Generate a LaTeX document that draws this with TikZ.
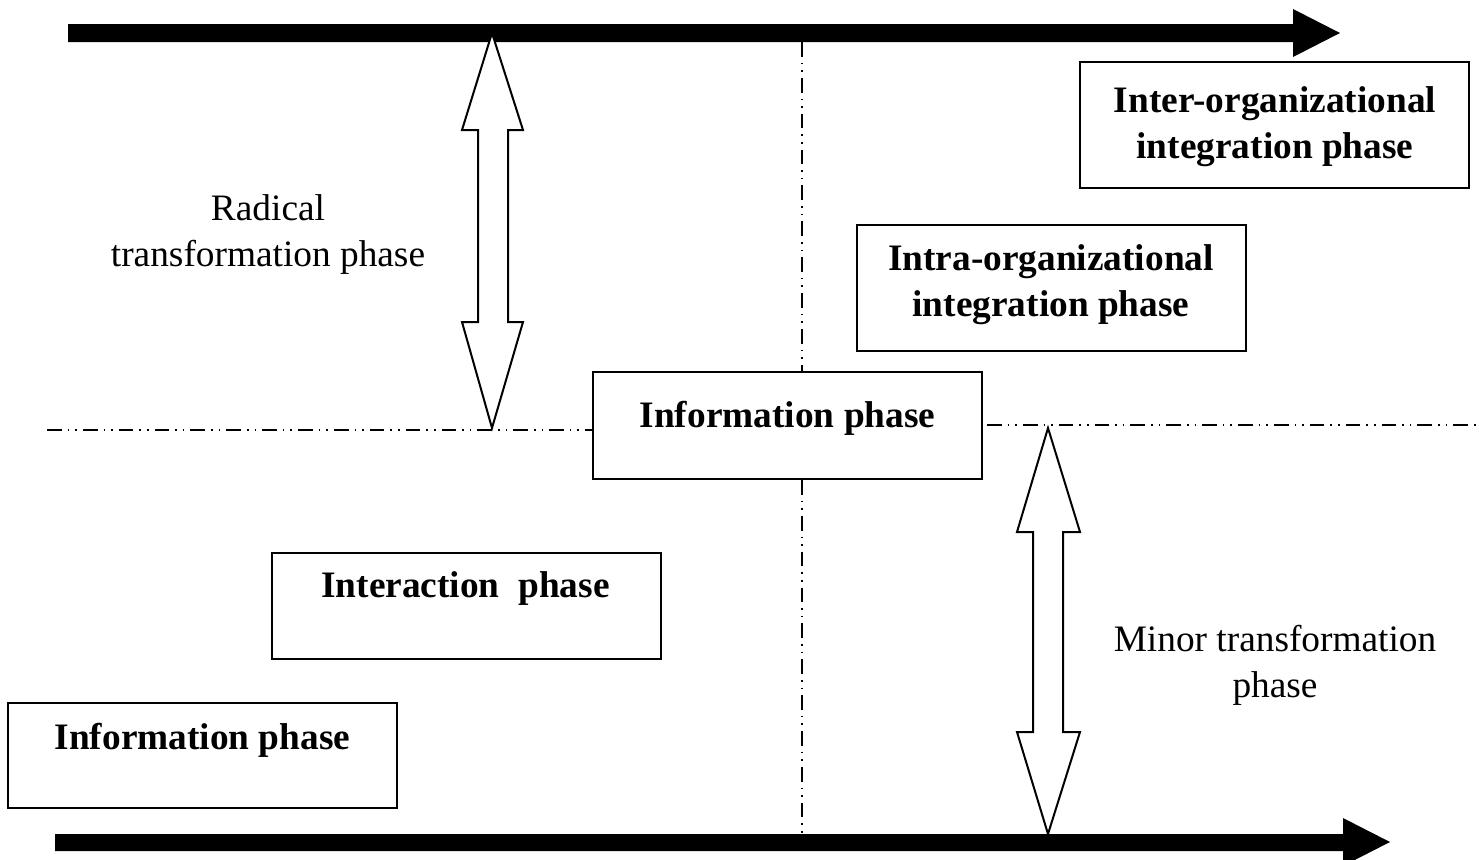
\documentclass[tikz,border=0pt]{standalone}
\usepackage{fontspec}
\setmainfont{Liberation Serif}
\usetikzlibrary{calc}
\begin{document}
\begin{tikzpicture}[x=0.75pt,y=-0.75pt,
  box/.style={draw,line width=1.5pt,rectangle,inner sep=0pt,minimum width=291.75pt},
  bl/.style={font=\fontsize{28}{34.5}\selectfont\bfseries,align=center,inner sep=0pt},
  nl/.style={font=\fontsize{28}{34.5}\selectfont,align=center,inner sep=0pt},
  dd/.style={line width=1.1pt,dash pattern=on 11pt off 4.5pt on 1.2pt off 4.5pt on 1.2pt off 4.5pt},
  bigarrow/.style={fill=black},
  dblarrow/.style={draw,fill=white,line width=1.5pt,line join=miter}]
\useasboundingbox (0,0) rectangle (1479,860);
% boxes
\node[box,minimum height=94.5pt] (inter) at (1274.5,125) {};
\node[box,minimum height=94.5pt] (intra) at (1051.5,288) {};
\node[box,minimum height=80.25pt] (infom) at (787.5,425.5) {};
\node[box,minimum height=79.5pt] (interact) at (466.5,606) {};
\node[box,minimum height=78.75pt] (infob) at (202.5,755.5) {};
% texts
\node[bl] (tinter) at (1275,127) {Inter-organizational\\integration phase};
\node[bl] (tintra) at (1051,285) {Intra-organizational\\integration phase};
\node[bl] (tinfom) at (787.5,418) {Information phase};
\node[bl] (tinteract) at (465.5,589) {Interaction\ \ phase};
\node[bl] (tinfob) at (202.5,740) {Information phase};
\node[nl] (trad) at (268,235) {Radical\\transformation phase};
\node[nl] (tmin) at (1275,665) {Minor transformation\\phase};
% axes
\coordinate (ta0) at (68,33);
\coordinate (ba0) at (55,842);
\fill[bigarrow] (68,24) -- (1293,24) -- (1293,9) -- (1340,33) -- (1293,57) -- (1293,42) -- (68,42) -- cycle;
\fill[bigarrow] (55,834) -- (1343,834) -- (1343,818) -- (1390,842) -- (1343,866) -- (1343,851) -- (55,851) -- cycle;
% dash-dot-dot lines
\coordinate (hl0) at (47,430);
\coordinate (hr1) at (1479,425);
\draw[dd] (hl0) -- (infom.west |- hl0);
\draw[dd] (infom.east |- hr1) ++(4,0) -- (hr1);
\coordinate (vtop) at (802,42);
\coordinate (vbot) at (802,834);
\draw[dd] (vtop) -- (vtop |- infom.north);
\draw[dd] (vbot |- infom.south) -- (vbot);
% double arrows
\draw[dblarrow] (492,33) -- (523,130) -- (508,130) -- (508,322) -- (523,322) -- (492,428) -- (462,322) -- (478,322) -- (478,130) -- (462,130) -- cycle;
\draw[dblarrow] (1048,428) -- (1080,532) -- (1063,532) -- (1063,732) -- (1080,732) -- (1048,834) -- (1017,732) -- (1033,732) -- (1033,532) -- (1017,532) -- cycle;
\end{tikzpicture}
\end{document}
